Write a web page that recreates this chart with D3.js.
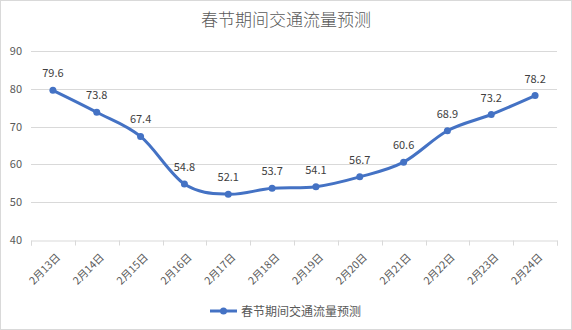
<!DOCTYPE html>
<html><head><meta charset="utf-8">
<script src="https://cdn.jsdelivr.net/npm/d3@7"></script>
<style>body{margin:0;background:#fff}svg{display:block}</style>
</head><body>
<script>
const categories = ["2月13日","2月14日","2月15日","2月16日","2月17日","2月18日","2月19日","2月20日","2月21日","2月22日","2月23日","2月24日"];
const values = [79.6,73.8,67.4,54.8,52.1,53.7,54.1,56.7,60.6,68.9,73.2,78.2];
const yTicks = [40,50,60,70,80,90];
const title = "春节期间交通流量预测";
const seriesName = "春节期间交通流量预测";

const W=572,H=330;
const svg=d3.select("body").append("svg").attr("width",W).attr("height",H);
svg.append("rect").attr("x",0.5).attr("y",0.5).attr("width",W-1).attr("height",H-1).attr("fill","#fff").attr("stroke","#d9d9d9");
const font="'Noto Sans CJK SC','Noto Sans',sans-serif";
const color="#4472C4";
const x=d3.scaleBand().domain(categories).range([31,557]);
const y=d3.scaleLinear().domain([40,90]).range([240,51]);

svg.append("text").attr("x",286).attr("y",26).attr("text-anchor","middle").attr("font-family",font).attr("font-size",17).attr("font-weight",300).attr("fill","#595959").text(title);

svg.append("g").selectAll("line").data(yTicks.slice(1)).join("line")
 .attr("x1",31).attr("x2",557).attr("y1",d=>Math.round(y(d))+0.5).attr("y2",d=>Math.round(y(d))+0.5).attr("stroke","#d9d9d9");
svg.append("g").selectAll("text").data(yTicks).join("text")
 .attr("x",22).attr("y",d=>y(d)+4).attr("text-anchor","end").attr("font-family",font).attr("font-size",11).attr("fill","#595959").text(d=>d);
const xa=svg.append("g").attr("transform",`translate(0,${Math.round(y(40))+0.5})`)
 .call(d3.axisBottom(x).tickSizeOuter(0).tickSize(5).tickFormat(""));
xa.select(".domain").attr("stroke","#d9d9d9");
xa.selectAll(".tick").remove();
const edges=categories.map(c=>x(c)).concat([x.range()[1]]);
xa.selectAll("line.t").data(edges).join("line").attr("class","t").attr("x1",d=>Math.round(d)+0.5).attr("x2",d=>Math.round(d)+0.5).attr("y1",0).attr("y2",5).attr("stroke","#d9d9d9");
svg.append("g").selectAll("text").data(categories).join("text")
 .attr("transform",d=>`translate(${x(d)+x.bandwidth()/2+8},${y(40)+18}) rotate(-45)`)
 .attr("text-anchor","end").attr("font-family",font).attr("font-size",10.5).attr("fill","#595959").text(d=>d);

const cx=(d,i)=>x(categories[i])+x.bandwidth()/2;
const line=d3.line().x((d,i)=>cx(d,i)).y(d=>y(d)).curve(d3.curveCatmullRom.alpha(0));
svg.append("path").datum(values).attr("d",line).attr("fill","none").attr("stroke",color).attr("stroke-width",3).attr("stroke-linecap","round");
svg.append("g").selectAll("circle").data(values).join("circle").attr("cx",cx).attr("cy",d=>y(d)).attr("r",3.5).attr("fill",color);
svg.append("g").selectAll("text").data(values).join("text").attr("x",cx).attr("y",d=>y(d)-13)
 .attr("text-anchor","middle").attr("font-family",font).attr("font-size",11).attr("fill","#404040").text(d=>d.toFixed(1));

const lg=svg.append("g");
lg.append("line").attr("x1",210).attr("x2",237).attr("y1",311).attr("y2",311).attr("stroke",color).attr("stroke-width",3);
lg.append("circle").attr("cx",223.5).attr("cy",311).attr("r",3.5).attr("fill",color);
lg.append("text").attr("x",241).attr("y",315.5).attr("font-family",font).attr("font-size",12).attr("fill","#595959").text(seriesName);
</script>
</body></html>
